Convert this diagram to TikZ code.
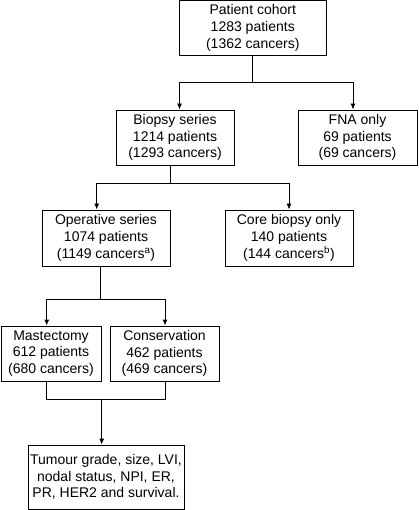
\documentclass[tikz,border=0pt]{standalone}
\usepackage{fontspec}
\setmainfont{Liberation Sans}
\usetikzlibrary{calc,arrows.meta}
\begin{document}
\begin{tikzpicture}[x=1pt, y=-1pt,
    stage/.style={draw, line width=0.9pt, align=center, inner sep=0pt, font=\fontsize{14}{16.8}\selectfont},
    flow/.style={line width=0.9pt},
    arrow/.style={flow, -{Latex[length=6pt,width=5pt]}}]
    \useasboundingbox (0,0) rectangle (418,510);

    \node[stage, minimum width=146.5pt, minimum height=54.5pt] (cohort) at (252.75,27.75) {Patient cohort\\1283 patients\\(1362 cancers)};
    \node[stage, minimum width=118pt, minimum height=55pt] (biopsy) at (175,137.5) {Biopsy series\\1214 patients\\(1293 cancers)};
    \node[stage, minimum width=119pt, minimum height=55pt] (fna) at (357.5,137.5) {FNA only\\69 patients\\(69 cancers)};
    \node[stage, minimum width=128pt, minimum height=56pt] (operative) at (106,238) {Operative series\\1074 patients\\(1149 cancers\textsuperscript{a})};
    \node[stage, minimum width=128pt, minimum height=56pt] (core) at (289,238) {Core biopsy only\\140 patients\\(144 cancers\textsuperscript{b})};
    \node[stage, minimum width=100pt, minimum height=55pt] (mast) at (51,353.5) {Mastectomy\\612 patients\\(680 cancers)};
    \node[stage, minimum width=109pt, minimum height=55pt] (cons) at (164.5,353.5) {Conservation\\462 patients\\(469 cancers)};
    \node[stage, minimum width=156pt, minimum height=64pt] (tumour) at (106,477) {Tumour grade, size, LVI,\\nodal status, NPI, ER,\\PR, HER2 and survival.};

    \coordinate (SplitCohort) at (252.75,82.5);
    \coordinate (ToBiopsy) at (179.5,82.5);
    \coordinate (ToFNA) at (353,82.5);
    \coordinate (SplitBiopsy) at (170,183.3);
    \coordinate (ToOperative) at (96.7,183.3);
    \coordinate (ToCore) at (289,183.3);
    \coordinate (SplitOperative) at (100.7,299);
    \coordinate (ToMast) at (46.7,299);
    \coordinate (ToCons) at (165,299);
    \coordinate (FromMast) at (46.7,399);
    \coordinate (FromCons) at (165,399);
    \coordinate (MergeSurgery) at (101.7,399);

    \draw[flow] (cohort.south -| SplitCohort) -- (SplitCohort);
    \draw[flow] (ToBiopsy) -- (ToFNA);
    \draw[arrow] (ToBiopsy) -- (ToBiopsy |- biopsy.north);
    \draw[arrow] (ToFNA) -- (ToFNA |- fna.north);

    \draw[flow] (biopsy.south -| SplitBiopsy) -- (SplitBiopsy);
    \draw[flow] (ToOperative) -- (ToCore);
    \draw[arrow] (ToOperative) -- (ToOperative |- operative.north);
    \draw[arrow] (ToCore) -- (ToCore |- core.north);

    \draw[flow] (operative.south -| SplitOperative) -- (SplitOperative);
    \draw[flow] (ToMast) -- (ToCons);
    \draw[arrow] (ToMast) -- (ToMast |- mast.north);
    \draw[arrow] (ToCons) -- (ToCons |- cons.north);

    \draw[flow] (mast.south -| FromMast) -- (FromMast) -- (FromCons) -- (cons.south -| FromCons);
    \draw[arrow] (MergeSurgery) -- (MergeSurgery |- tumour.north);
\end{tikzpicture}
\end{document}
